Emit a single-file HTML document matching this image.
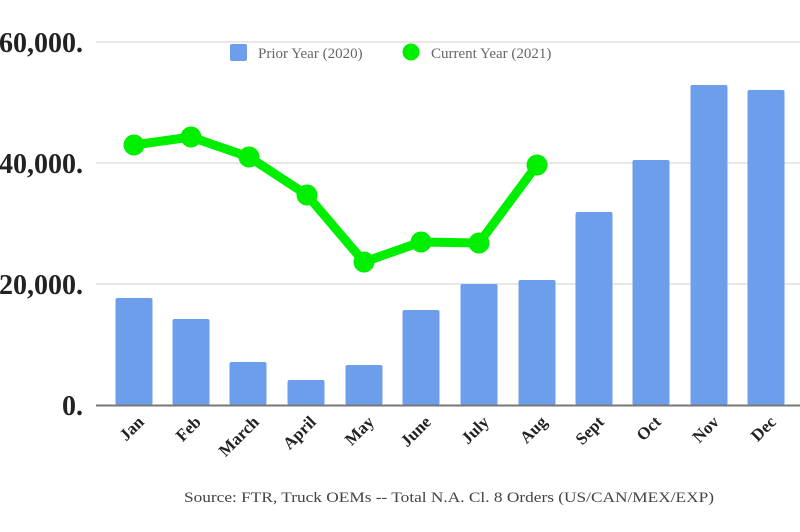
<!DOCTYPE html>
<html><head><meta charset="utf-8"><style>
html,body{margin:0;padding:0;background:#fff;width:800px;height:532px;overflow:hidden}
</style></head><body>
<svg width="800" height="532" viewBox="0 0 800 532" xmlns="http://www.w3.org/2000/svg">
<g stroke="#d0d0d0" stroke-width="1">
<line x1="96" y1="42" x2="800" y2="42"/>
<line x1="96" y1="163" x2="800" y2="163"/>
<line x1="96" y1="284" x2="800" y2="284"/>
</g>
<g font-family="Liberation Serif, serif" font-weight="bold" font-size="28" fill="#222" text-anchor="end">
<text x="83" y="52">60,000.</text>
<text x="83" y="173">40,000.</text>
<text x="83" y="294">20,000.</text>
<text x="83" y="415">0.</text>
</g>
<g fill="#6d9eeb">
<rect x="115.5" y="298" width="37" height="107" rx="2"/>
<rect x="172.5" y="319" width="37" height="86" rx="2"/>
<rect x="229.5" y="362" width="37" height="43" rx="2"/>
<rect x="287.5" y="380" width="37" height="25" rx="2"/>
<rect x="345.5" y="365" width="37" height="40" rx="2"/>
<rect x="402.5" y="310" width="37" height="95" rx="2"/>
<rect x="460.5" y="284" width="37" height="121" rx="2"/>
<rect x="518.5" y="280" width="37" height="125" rx="2"/>
<rect x="575.5" y="212" width="37" height="193" rx="2"/>
<rect x="632.5" y="160" width="37" height="245" rx="2"/>
<rect x="690.5" y="85" width="37" height="320" rx="2"/>
<rect x="747.5" y="90" width="37" height="315" rx="2"/>
</g>
<line x1="96" y1="405.5" x2="800" y2="405.5" stroke="#777" stroke-width="2"/>
<polyline points="134,145 191,137 249,157 307,195 364,262 421,242 479,243 537,165" fill="none" stroke="#00ee00" stroke-width="9" stroke-linejoin="round"/>
<g fill="#00ee00">
<circle cx="134" cy="145" r="10.5"/><circle cx="191" cy="137" r="10.5"/><circle cx="249" cy="157" r="10.5"/><circle cx="307" cy="195" r="10.5"/><circle cx="364" cy="262" r="10.5"/><circle cx="421" cy="242" r="10.5"/><circle cx="479" cy="243" r="10.5"/><circle cx="537" cy="165" r="10.5"/>
</g>
<rect x="230" y="44" width="17" height="17" rx="2" fill="#6d9eeb"/>
<circle cx="411" cy="52" r="8.5" fill="#00ee00"/>
<g font-family="Liberation Serif, serif" font-size="15" fill="#666">
<text x="258" y="58">Prior Year (2020)</text>
<text x="431" y="58">Current Year (2021)</text>
</g>
<g font-family="Liberation Serif, serif" font-weight="bold" font-size="17" fill="#222" text-anchor="end">
<text transform="translate(145,423) rotate(-45)">Jan</text>
<text transform="translate(202,423) rotate(-45)">Feb</text>
<text transform="translate(260,423) rotate(-45)">March</text>
<text transform="translate(317,423) rotate(-45)">April</text>
<text transform="translate(375,423) rotate(-45)">May</text>
<text transform="translate(432,423) rotate(-45)">June</text>
<text transform="translate(490,423) rotate(-45)">July</text>
<text transform="translate(548,423) rotate(-45)">Aug</text>
<text transform="translate(605,423) rotate(-45)">Sept</text>
<text transform="translate(662,423) rotate(-45)">Oct</text>
<text transform="translate(720,423) rotate(-45)">Nov</text>
<text transform="translate(777,423) rotate(-45)">Dec</text>
</g>
<text x="449" y="502" text-anchor="middle" font-family="Liberation Serif, serif" font-size="15" fill="#444" textLength="530" lengthAdjust="spacingAndGlyphs">Source: FTR, Truck OEMs -- Total N.A. Cl. 8 Orders (US/CAN/MEX/EXP)</text>
</svg>
</body></html>
